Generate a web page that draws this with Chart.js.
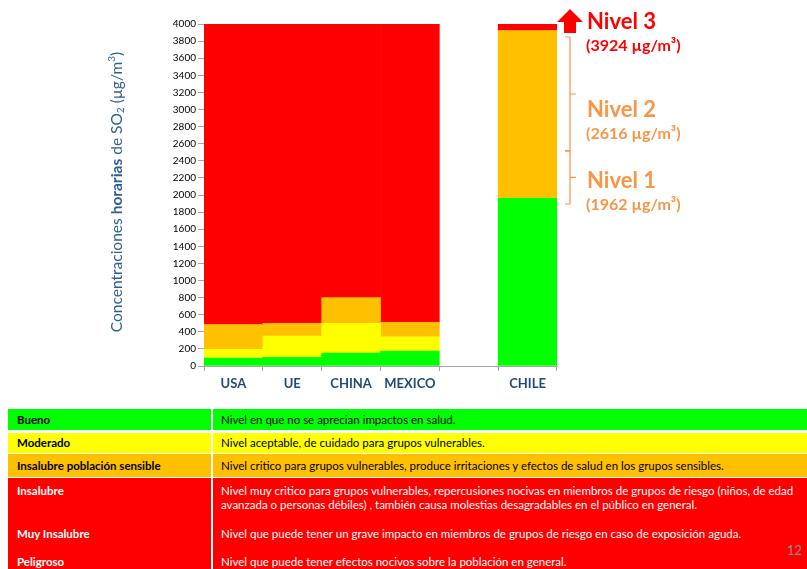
<!DOCTYPE html>
<html lang="es">
<head>
<meta charset="utf-8">
<title>Concentraciones horarias de SO2</title>
<script src="https://cdn.jsdelivr.net/npm/chart.js@4.4.1/dist/chart.umd.min.js"></script>
<style>
    html, body { margin: 0; padding: 0; background: #ffffff; }
    body { width: 807px; height: 569px; position: relative; overflow: hidden; font-family: Lato, "Open Sans", sans-serif; }
    #grafico { position: absolute; left: 0; top: 0; }
    .celda { position: absolute; box-sizing: border-box; font-size: 11.5px; white-space: nowrap; padding-left: 9px; }
    .izq { left: 8px; width: 203px; font-weight: bold; }
    .der { left: 213px; width: 600px; padding-left: 8px; }
    .bueno { top: 409px; height: 21px; line-height: 21px; background: #00ff00; color: #000; }
    .moderado { top: 433px; height: 20px; line-height: 20px; background: #ffff00; color: #000; }
    .sensible { top: 454px; height: 23px; line-height: 23px; background: #ffc000; color: #000; }
    .rojo { top: 478px; height: 100px; background: #ff0000; }
    .txt-rojo { position: absolute; color: #fff; font-size: 11.5px; line-height: 14px; white-space: nowrap; }
    #pagina { position: absolute; left: 787px; top: 542px; color: #8c8c8c; font-size: 13px; }
</style>
</head>
<body>
<canvas id="grafico" width="807" height="400"></canvas>

<div class="celda izq bueno">Bueno</div>
<div class="celda der bueno">Nivel en que no se aprecian impactos en salud.</div>
<div class="celda izq moderado">Moderado</div>
<div class="celda der moderado">Nivel aceptable, de cuidado para grupos vulnerables.</div>
<div class="celda izq sensible">Insalubre población sensible</div>
<div class="celda der sensible">Nivel critico para grupos vulnerables, produce irritaciones y efectos de salud en los grupos sensibles.</div>
<div class="celda izq rojo"></div>
<div class="celda der rojo"></div>
<div class="txt-rojo" style="left:17px; top:484px; font-weight:bold;">Insalubre</div>
<div class="txt-rojo" style="left:221px; top:484px;">Nivel muy critico para grupos vulnerables, repercusiones nocivas en miembros de grupos de riesgo (niños, de edad<br>avanzada o personas débiles) , también causa molestias desagradables en el público en general.</div>
<div class="txt-rojo" style="left:17px; top:527px; font-weight:bold;">Muy Insalubre</div>
<div class="txt-rojo" style="left:221px; top:527px;">Nivel que puede tener un grave impacto en miembros de grupos de riesgo en caso de exposición aguda.</div>
<div class="txt-rojo" style="left:17px; top:555px; font-weight:bold;">Peligroso</div>
<div class="txt-rojo" style="left:221px; top:555px;">Nivel que puede tener efectos nocivos sobre la población en general.</div>
<div id="pagina">12</div>

<script>
// Normas horarias de SO2 (µg/m3) por país
const categorias = ['USA', 'UE', 'CHINA', 'MEXICO', '', 'CHILE'];
const limiteBueno = [92, 100, 150, 175, null, 1962];
const limiteModerado = [196, 350, 500, 340, null, 1962];
const limiteSensible = [485, 500, 800, 510, null, 3924];
const techo = [4000, 4000, 4000, 4000, null, 4000];

// Niveles de emergencia de la norma chilena
const nivelesChile = ['Nivel 1', 'Nivel 2', 'Nivel 3'];
const valoresNiveles = [1962, 2616, 3924];

const VERDE = '#00ff00';
const AMARILLO = '#ffff00';
const NARANJO = '#ffc000';
const ROJO = '#ff0000';
const TEXTO_NIVEL = '#f79646';
const AZUL = '#1f497d';

// tramo entre dos límites (alto de cada pedazo apilado)
function tramo(sup, inf) {
    return sup.map((v, i) => v === null ? null : v - (inf ? inf[i] : 0));
}

// título del eje Y con "horarias" en negrita y sub/superíndices
const tituloEjeY = {
    id: 'tituloEjeY',
    afterDraw(chart) {
        const ctx = chart.ctx;
        const area = chart.chartArea;
        const partes = [
            { t: 'Concentraciones ', f: '15.5px Lato' },
            { t: 'horarias', f: 'bold 15.5px Lato' },
            { t: ' de SO', f: '15.5px Lato' },
            { t: '2', f: '10px Lato', dy: 4 },
            { t: ' (µg/m', f: '15.5px Lato' },
            { t: '3', f: '10px Lato', dy: -5 },
            { t: ')', f: '15.5px Lato' }
        ];
        ctx.save();
        ctx.translate(117, (area.top + area.bottom) / 2 - 3);
        ctx.rotate(-Math.PI / 2);
        ctx.fillStyle = '#2e5f93';
        ctx.textBaseline = 'middle';
        let total = 0;
        partes.forEach(p => { ctx.font = p.f; total += ctx.measureText(p.t).width; });
        let x = -total / 2;
        partes.forEach(p => {
            ctx.font = p.f;
            ctx.fillText(p.t, x, p.dy || 0);
            x += ctx.measureText(p.t).width;
        });
        ctx.restore();
    }
};

// llaves, flecha y rótulos de los niveles de Chile
const anotacionesChile = {
    id: 'anotacionesChile',
    afterDraw(chart) {
        const ctx = chart.ctx;
        const x = chart.scales.x;
        const y = chart.scales.y;
        const ancho = x.getPixelForValue(1) - x.getPixelForValue(0);
        const derecha = x.getPixelForValue(5) + ancho / 2;
        const yTope = y.getPixelForValue(techo[5]);

        // flecha roja hacia arriba
        const cx = derecha + 13;
        ctx.save();
        ctx.fillStyle = ROJO;
        ctx.beginPath();
        ctx.moveTo(cx, yTope - 15);
        ctx.lineTo(cx + 13, yTope - 2);
        ctx.lineTo(cx + 6, yTope - 2);
        ctx.lineTo(cx + 6, yTope + 9);
        ctx.lineTo(cx - 6, yTope + 9);
        ctx.lineTo(cx - 6, yTope - 2);
        ctx.lineTo(cx - 13, yTope - 2);
        ctx.closePath();
        ctx.fill();

        // llaves
        const llave = (v0, v1) => {
            const a = y.getPixelForValue(v0);
            const b = y.getPixelForValue(v1);
            const m = (a + b) / 2;
            const bx = derecha + 13;
            ctx.beginPath();
            ctx.moveTo(bx - 5, a);
            ctx.lineTo(bx, a);
            ctx.lineTo(bx, m);
            ctx.lineTo(bx + 6, m);
            ctx.moveTo(bx, m);
            ctx.lineTo(bx, b);
            ctx.lineTo(bx - 5, b);
            ctx.stroke();
        };
        ctx.strokeStyle = TEXTO_NIVEL;
        ctx.lineWidth = 1.2;
        llave(1895, 2515);
        llave(2515, 3848);

        // rótulos
        const tx = derecha + 30;
        const rotulo = (i, color, vTexto) => {
            const py = y.getPixelForValue(vTexto);
            ctx.fillStyle = color;
            ctx.textBaseline = 'middle';
            ctx.textAlign = 'left';
            ctx.font = 'bold 22px Lato';
            ctx.fillText(nivelesChile[i], tx, py);
            ctx.font = 'bold 16px Lato';
            ctx.fillText('(' + valoresNiveles[i] + ' µg/m³)', tx - 1, py + 24);
        };
        rotulo(0, TEXTO_NIVEL, 2164);
        rotulo(1, TEXTO_NIVEL, 2994);
        rotulo(2, ROJO, 4023);
        ctx.restore();
    }
};

const ctx = document.getElementById('grafico');
new Chart(ctx, {
    type: 'bar',
    data: {
        labels: categorias,
        datasets: [
            { label: 'Bueno', data: tramo(limiteBueno), backgroundColor: VERDE },
            { label: 'Moderado', data: tramo(limiteModerado, limiteBueno), backgroundColor: AMARILLO },
            { label: 'Insalubre población sensible', data: tramo(limiteSensible, limiteModerado), backgroundColor: NARANJO },
            { label: 'Insalubre', data: tramo(techo, limiteSensible), backgroundColor: ROJO }
        ]
    },
    options: {
        responsive: false,
        animation: false,
        devicePixelRatio: 1,
        layout: { padding: { left: 100, right: 250, top: 24, bottom: 10 } },
        datasets: {
            bar: { barPercentage: 1, categoryPercentage: 1, borderWidth: 0 }
        },
        plugins: {
            legend: { display: false },
            tooltip: { enabled: false }
        },
        scales: {
            x: {
                stacked: true,
                afterFit(scale) { scale.height = 24; },
                grid: { drawOnChartArea: false, drawTicks: true, tickLength: 5, offset: true, color: '#a6a6a6' },
                border: { color: '#a6a6a6' },
                ticks: {
                    color: AZUL,
                    padding: 5,
                    font: { family: 'Lato', size: 13, weight: 'bold' }
                }
            },
            y: {
                stacked: true,
                min: 0,
                max: 4000,
                afterFit(scale) { scale.width = 104; },
                grid: { drawOnChartArea: false, drawTicks: true, tickLength: 6, color: '#a6a6a6' },
                border: { color: '#a6a6a6' },
                ticks: {
                    stepSize: 200,
                    color: '#000000',
                    padding: 2,
                    font: { family: 'Lato', size: 10 },
                    callback: v => String(v)
                }
            }
        }
    },
    plugins: [tituloEjeY, anotacionesChile]
});
</script>
</body>
</html>
